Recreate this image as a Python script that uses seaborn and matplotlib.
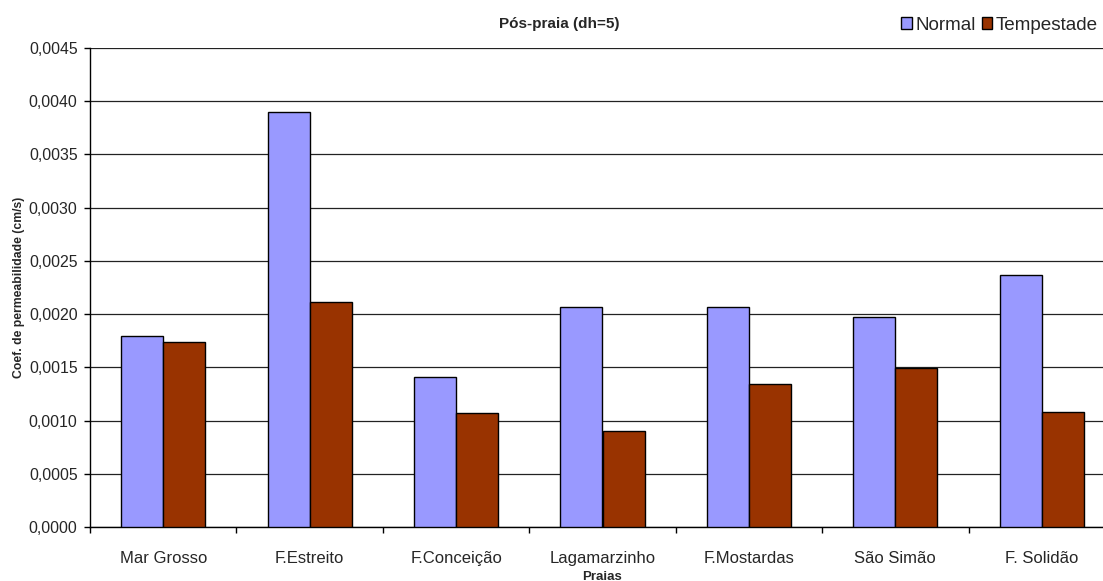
import matplotlib
matplotlib.use("Agg")
import matplotlib.pyplot as plt
from matplotlib.ticker import FuncFormatter, FixedLocator
import seaborn as sns
import pandas as pd
import numpy as np

praias = ["Mar Grosso", "F.Estreito", "F.Conceição", "Lagamarzinho",
          "F.Mostardas", "São Simão", "F. Solidão"]
normal = [0.00179, 0.00390, 0.00141, 0.00207, 0.00207, 0.00197, 0.00237]
tempestade = [0.00174, 0.00211, 0.00107, 0.00090, 0.00134, 0.00149, 0.00108]
series = ["Normal", "Tempestade"]
cores = ["#9999FF", "#993300"]

df = pd.DataFrame({
    "Praia": praias * 2,
    "Valor": normal + tempestade,
    "Condição": [series[0]] * len(praias) + [series[1]] * len(praias),
})

sns.set_style("white")
plt.rcParams["font.family"] = ["Liberation Sans", "DejaVu Sans"]

fig = plt.figure(figsize=(11.03, 5.81), dpi=100)
# plot area runs slightly past the right edge of the canvas
ax = fig.add_axes([90 / 1103, 54 / 581, (1115 - 90) / 1103, (533 - 54) / 581])

sns.barplot(data=df, x="Praia", y="Valor", hue="Condição", order=praias,
            hue_order=series, palette=cores, saturation=1, width=0.574,
            edgecolor="black", linewidth=1.0, ax=ax, legend=False, zorder=3)

ax.set_xlim(-0.5, len(praias) - 0.5)
ax.set_ylim(0, 0.0045)
ax.yaxis.set_major_locator(FixedLocator(np.arange(0, 0.00451, 0.0005)))
ax.yaxis.set_major_formatter(FuncFormatter(lambda v, p: f"{v:.4f}".replace(".", ",")))
ax.grid(axis="y", color="#222222", linewidth=0.9, zorder=0)
ax.set_axisbelow(True)

for s in ["top", "right"]:
    ax.spines[s].set_visible(False)
for s in ["left", "bottom"]:
    ax.spines[s].set_color("black")
    ax.spines[s].set_linewidth(1.0)

ax.tick_params(axis="y", which="major", direction="out", length=4, width=1,
               color="black", labelsize=11.4, pad=5, left=True)
ax.tick_params(axis="x", which="major", length=0, labelsize=12, pad=17)
ax.set_xticks(np.arange(-0.5, len(praias)), minor=True)
ax.tick_params(axis="x", which="minor", direction="out", length=4, width=1,
               color="black", bottom=True)

ax.set_xlabel("")
ax.set_ylabel("Coef. de permeabilidade (cm/s)", fontsize=8.8,
              fontweight="bold", labelpad=3)
fig.text(602 / 1103, 1 - 571 / 581, "Praias", fontsize=9.5, fontweight="bold",
         ha="center", va="top")

fig.text(559 / 1103, 1 - 24 / 581, "Pós-praia (dh=5)", fontsize=11,
         fontweight="bold", ha="center", va="center")

handles = [plt.Rectangle((0, 0), 1, 1, facecolor=c, edgecolor="black", linewidth=1)
           for c in cores]
fig.legend(handles, series, loc="center right", bbox_to_anchor=(0.997, 1 - 25 / 581),
           ncol=2, frameon=False, fontsize=13.6, handlelength=0.55, handleheight=0.55,
           handletextpad=0.2, columnspacing=0.3, borderaxespad=0, borderpad=0.1)

fig.savefig("out.png", dpi=100, facecolor="white")
